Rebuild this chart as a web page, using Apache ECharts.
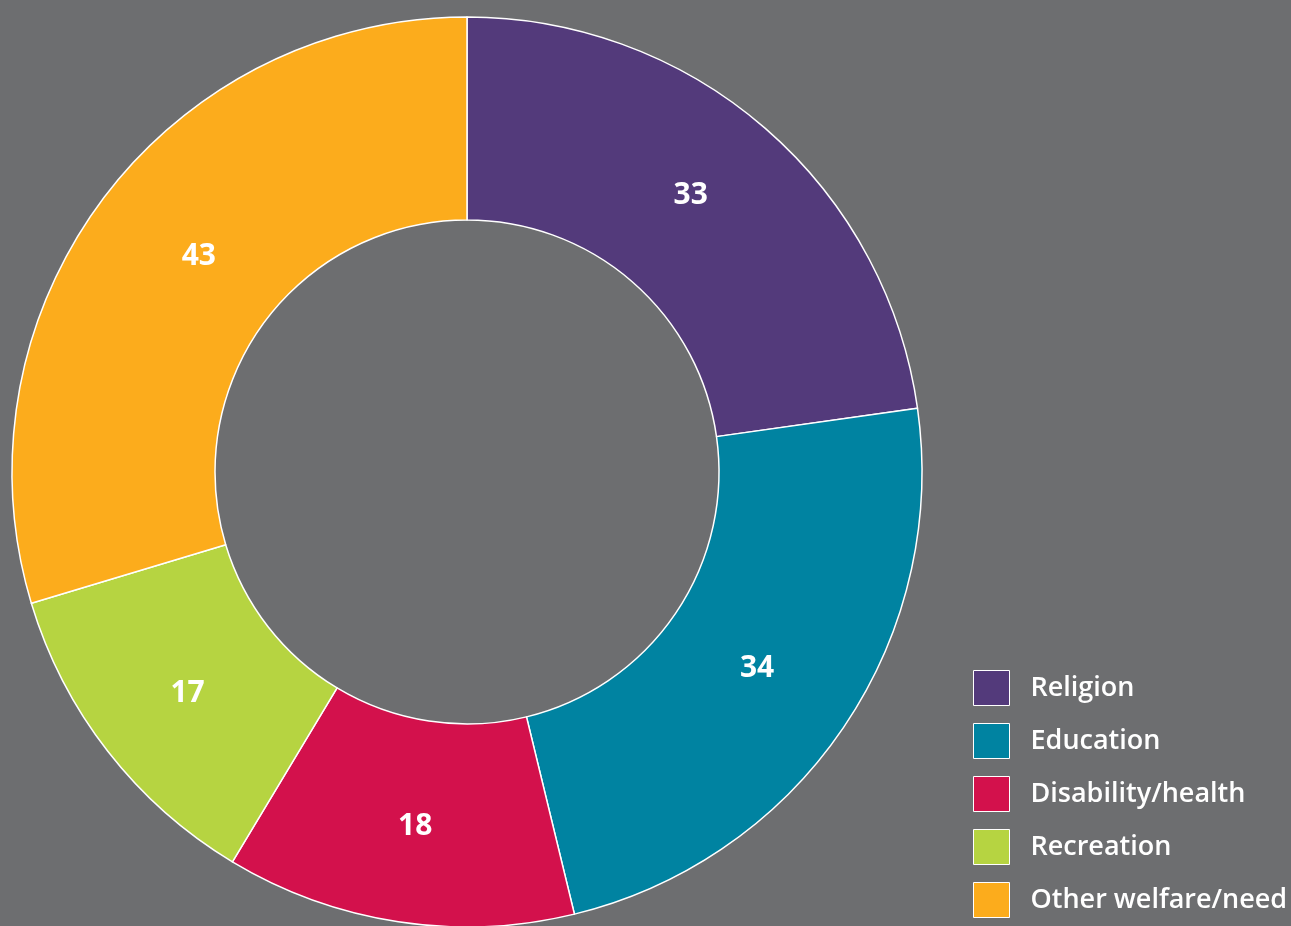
<!DOCTYPE html>
<html>
<head>
<meta charset="utf-8">
<script src="https://cdn.jsdelivr.net/npm/echarts@6/dist/echarts.min.js"></script>
<style>
  html, body { margin: 0; padding: 0; background: #6d6e70; }
  #chart { width: 1291px; height: 926px; }
</style>
</head>
<body>
<div id="chart"></div>
<script>
// Causes supported, clockwise from the top
const categories = ['Religion', 'Education', 'Disability/health', 'Recreation', 'Other welfare/need'];
const values = [33, 34, 18, 17, 43];
const colors = ['#533a7b', '#0083a1', '#d3114c', '#b6d441', '#fcac1c'];
// small nudges for the value labels inside the ring
const labelNudges = [[-10, -7], [-5, -4], [2, 2], [2, 3], [18, -3]];

const chart = echarts.init(document.getElementById('chart'));
chart.setOption({
  backgroundColor: '#6d6e70',
  animation: false,
  color: colors,
  legend: {
    orient: 'vertical',
    left: 973,
    top: 670,
    padding: 0,
    itemWidth: 36,
    itemHeight: 35,
    itemGap: 17,
    icon: 'rect',
    itemStyle: { borderColor: '#ffffff', borderWidth: 1 },
    textStyle: {
      color: '#ffffff',
      fontFamily: 'Open Sans',
      fontWeight: 600,
      fontSize: 27,
      padding: [0, 0, 0, 16]
    },
    data: categories
  },
  series: [{
    type: 'pie',
    center: [467, 472],
    radius: [252, 455],
    startAngle: 90,
    clockwise: true,
    avoidLabelOverlap: false,
    itemStyle: { borderColor: '#ffffff', borderWidth: 1.5 },
    label: {
      show: true,
      position: 'inside',
      color: '#ffffff',
      fontFamily: 'Open Sans',
      fontWeight: 'bold',
      fontSize: 30,
      formatter: '{c}'
    },
    labelLine: { show: false },
    emphasis: { disabled: true },
    data: categories.map((name, i) => ({
      name: name,
      value: values[i],
      label: { offset: labelNudges[i] }
    }))
  }]
});
</script>
</body>
</html>
